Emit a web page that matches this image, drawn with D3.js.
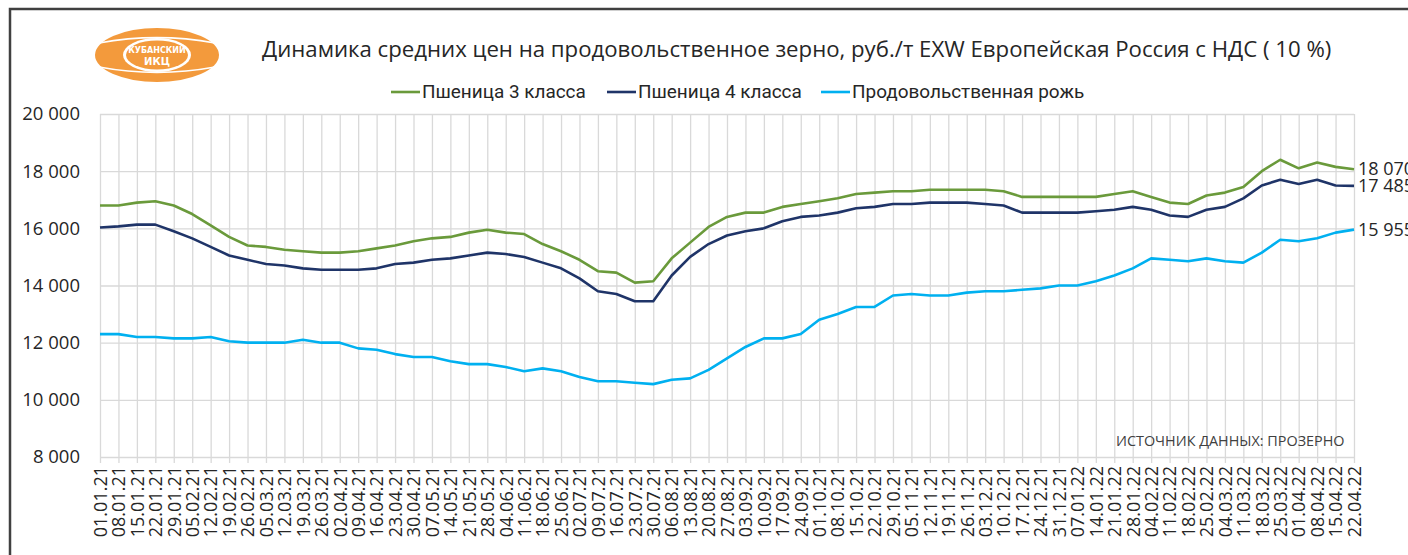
<!DOCTYPE html>
<html>
<head>
<meta charset="utf-8">
<script src="https://cdn.jsdelivr.net/npm/d3@7"></script>
<style>
  body { margin: 0; background: #fff; }
  svg { display: block; }
  .grid line { stroke: #d9d9d9; stroke-width: 1.3; }
  .grid path { display: none; }
  .axis text { fill: #262626; font-family: "Open Sans", sans-serif; }
  .axis path, .axis line { display: none; }
</style>
</head>
<body>
<script>
// weekly dates
var dates = ["01.01.21","08.01.21","15.01.21","22.01.21","29.01.21","05.02.21","12.02.21","19.02.21","26.02.21",
  "05.03.21","12.03.21","19.03.21","26.03.21","02.04.21","09.04.21","16.04.21","23.04.21","30.04.21",
  "07.05.21","14.05.21","21.05.21","28.05.21","04.06.21","11.06.21","18.06.21","25.06.21","02.07.21",
  "09.07.21","16.07.21","23.07.21","30.07.21","06.08.21","13.08.21","20.08.21","27.08.21","03.09.21",
  "10.09.21","17.09.21","24.09.21","01.10.21","08.10.21","15.10.21","22.10.21","29.10.21","05.11.21",
  "12.11.21","19.11.21","26.11.21","03.12.21","10.12.21","17.12.21","24.12.21","31.12.21","07.01.22",
  "14.01.22","21.01.22","28.01.22","04.02.22","11.02.22","18.02.22","25.02.22","04.03.22","11.03.22",
  "18.03.22","25.03.22","01.04.22","08.04.22","15.04.22","22.04.22"];

var wheat3 = [16800,16800,16900,16950,16800,16500,16100,15700,15400,15350,15250,15200,15150,15150,
  15200,15300,15400,15550,15650,15700,15850,15950,15850,15800,15450,15200,14900,14500,14450,14100,
  14150,14950,15500,16050,16400,16550,16550,16750,16850,16950,17050,17200,17250,17300,17300,17350,
  17350,17350,17350,17300,17100,17100,17100,17100,17100,17200,17300,17100,16900,16850,17150,17250,
  17450,18000,18400,18100,18300,18150,18070];

var wheat4 = [16030,16070,16130,16130,15900,15650,15350,15050,14900,14750,14700,14600,14550,14550,
  14550,14600,14750,14800,14900,14950,15050,15150,15100,15000,14800,14600,14250,13800,13700,13450,
  13450,14350,15000,15450,15750,15900,16000,16250,16400,16450,16550,16700,16750,16850,16850,16900,
  16900,16900,16850,16800,16550,16550,16550,16550,16600,16650,16750,16650,16450,16400,16650,16750,
  17050,17500,17700,17550,17700,17500,17485];

var rye = [12300,12300,12200,12200,12150,12150,12200,12050,12000,12000,12000,12100,12000,12000,
  11800,11750,11600,11500,11500,11350,11250,11250,11150,11000,11100,11000,10800,10650,10650,10600,
  10550,10700,10750,11050,11450,11850,12150,12150,12300,12800,13000,13250,13250,13650,13700,13650,
  13650,13750,13800,13800,13850,13900,14000,14000,14150,14350,14600,14950,14900,14850,14950,14850,
  14800,15150,15600,15550,15650,15850,15955];

var seriesNames = ["Пшеница 3 класса", "Пшеница 4 класса", "Продовольственная рожь"];
var seriesColors = ["#6a9a3b", "#1f3468", "#00b0f0"];
var yTicks = [8000, 10000, 12000, 14000, 16000, 18000, 20000];

var width = 1408, height = 555;

var svg = d3.select("body").append("svg")
    .attr("width", width)
    .attr("height", height);

//outer frame, cropped at right and bottom
svg.append("rect")
    .attr("x", 10).attr("y", 9)
    .attr("width", 1420).attr("height", 570)
    .attr("fill", "#fff")
    .attr("stroke", "#404040")
    .attr("stroke-width", 2.5);

var x = d3.scalePoint().domain(dates).range([100, 1354]);
var y = d3.scaleLinear().domain([8000, 20000]).range([457, 114]);

var ru = d3.formatLocale({decimal: ",", thousands: " ", grouping: [3], currency: ["", ""]});
var fmt = ru.format(",d");

//gridlines
svg.append("g")
    .attr("class", "grid")
    .attr("transform", "translate(0,457)")
    .call(d3.axisBottom(x).tickSizeOuter(0).tickFormat(""))
    .selectAll("line").attr("y2", -343).attr("y1", 6);

svg.append("g")
    .attr("class", "grid")
    .attr("transform", "translate(100,0)")
    .call(d3.axisLeft(y).tickValues(yTicks).tickSize(-1254).tickFormat(""));

//y axis labels
svg.append("g")
    .attr("class", "axis")
    .attr("transform", "translate(100,0)")
    .call(d3.axisLeft(y).tickValues(yTicks).tickSize(0).tickPadding(20).tickFormat(fmt))
    .selectAll("text").style("font-size", "18.5px");

//x axis labels
svg.append("g")
    .attr("class", "axis")
    .attr("transform", "translate(0,457)")
    .call(d3.axisBottom(x).tickSize(0).tickPadding(0))
    .selectAll("text")
    .style("font-size", "18px")
    .attr("text-anchor", "end")
    .attr("transform", "rotate(-90)")
    .attr("x", -9)
    .attr("y", 0)
    .attr("dy", "0.35em");

//lines
var line = d3.line()
    .x(function(d, i){ return x(dates[i]); })
    .y(function(d){ return y(d); });

[wheat3, wheat4, rye].forEach(function(s, k){
    svg.append("path")
        .datum(s)
        .attr("fill", "none")
        .attr("stroke", seriesColors[k])
        .attr("stroke-width", 2.6)
        .attr("stroke-linejoin", "round")
        .attr("d", line);

    var last = s[s.length - 1];
    svg.append("text")
        .attr("x", x(dates[dates.length - 1]) + 4)
        .attr("y", y(last))
        .attr("dy", "0.35em")
        .attr("fill", "#262626")
        .style("font-family", "'Open Sans', sans-serif")
        .style("font-size", "18px")
        .text(fmt(last));
});

//title
svg.append("text")
    .attr("x", 262).attr("y", 57)
    .attr("fill", "#262626")
    .style("font-family", "'Open Sans', sans-serif")
    .style("font-size", "22.2px")
    .text("Динамика средних цен на продовольственное зерно, руб./т EXW Европейская Россия с НДС ( 10 %)");

//legend
var legendX = [391, 607, 821];
var legendItems = [];
seriesNames.forEach(function(n, k){
    var g = svg.append("g").attr("transform", "translate(" + legendX[k] + ",92)");
    g.append("line")
        .attr("x1", 0).attr("x2", 29)
        .attr("stroke", seriesColors[k]).attr("stroke-width", 2.6);
    var t = g.append("text")
        .attr("dy", "0.35em")
        .attr("fill", "#262626")
        .style("font-family", "Roboto, sans-serif")
        .style("font-size", "17.5px")
        .text(n);
    legendItems.push(t);
});
//stretch narrow legend text to the reference width
var stretch = 164 / legendItems[0].node().getComputedTextLength();
legendItems.forEach(function(t){
    t.attr("transform", "translate(31,0) scale(" + stretch + ",1)");
});

//source note
svg.append("text")
    .attr("x", 1116).attr("y", 446)
    .attr("fill", "#404040")
    .style("font-family", "'Open Sans', sans-serif")
    .style("font-size", "14.4px")
    .text("ИСТОЧНИК ДАННЫХ: ПРОЗЕРНО");

//logo
var logo = svg.append("g").attr("transform", "translate(157,55)");
logo.append("ellipse").attr("rx", 62).attr("ry", 27).attr("fill", "#f39a3c");
[-20, -12, 12, 20].forEach(function(dy){
    logo.append("path")
        .attr("d", "M-58," + dy + " Q0," + (dy * 1.9) + " 58," + dy)
        .attr("fill", "none").attr("stroke", "#fff").attr("stroke-width", 1.6);
});
logo.append("ellipse").attr("rx", 34).attr("ry", 17).attr("fill", "#fff");
logo.append("ellipse").attr("rx", 31).attr("ry", 14.5).attr("fill", "#f39a3c");
logo.append("text").attr("y", -2).attr("text-anchor", "middle")
    .attr("fill", "#fff").style("font-family", "'DejaVu Sans', sans-serif")
    .style("font-weight", "bold").style("font-size", "8px").text("КУБАНСКИЙ");
logo.append("text").attr("y", 10).attr("text-anchor", "middle")
    .attr("fill", "#fff").style("font-family", "'DejaVu Sans', sans-serif")
    .style("font-weight", "bold").style("font-size", "10px").text("ИКЦ");
</script>
</body>
</html>
